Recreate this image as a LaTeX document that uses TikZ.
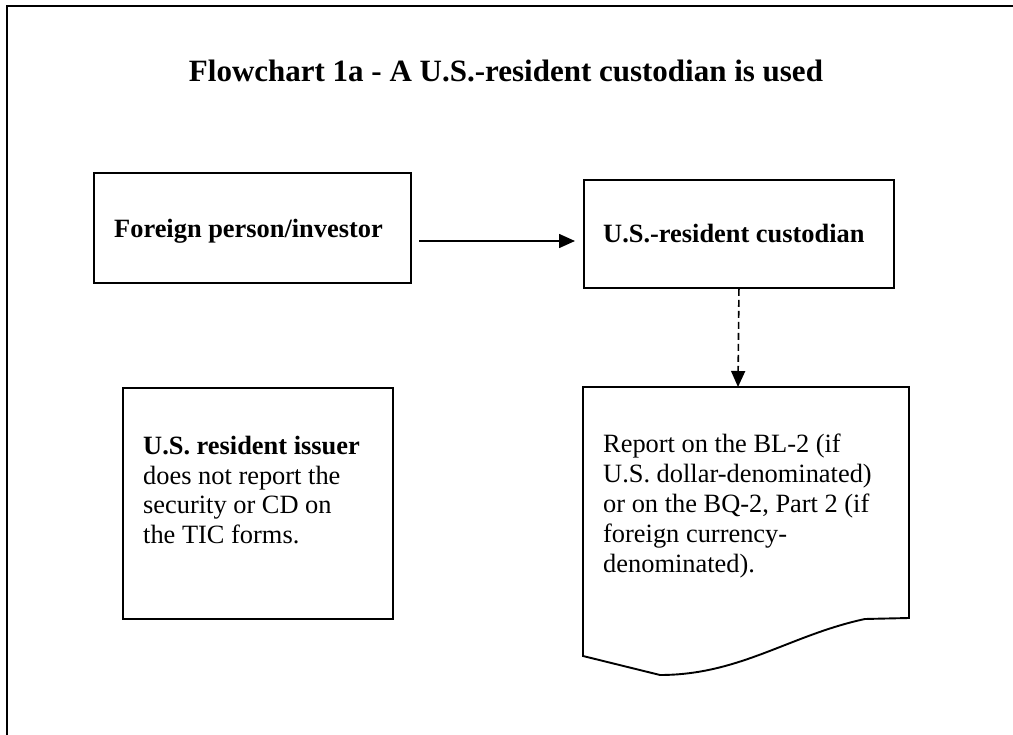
\documentclass[tikz,border=0pt]{standalone}
\usepackage{fontspec}
\setmainfont{Liberation Serif}
\usetikzlibrary{arrows.meta}
\begin{document}
\begin{tikzpicture}[x=1pt,y=-1pt,
  box/.style={draw=black, line width=1.9pt, minimum width=#1, anchor=north west, inner sep=0pt},
  txt/.style={anchor=base west, inner sep=0pt, font=\fontsize{26.4}{30}\selectfont},
  link/.style={line width=1.6pt, -{Triangle[length=16pt,width=14pt]}}]
\useasboundingbox (0,0) rectangle (1013,735);
% outer frame (top and left edges only)
\draw[line width=2.6pt] (7,735) -- (7,6) -- (1013,6);
% title
\node[anchor=base, inner sep=0pt, font=\fontsize{31}{36}\selectfont\bfseries] (title) at (506,82) {Flowchart 1a - A U.S.-resident custodian is used};
% boxes
\node[box=317pt, minimum height=110pt] (foreign) at (93,172) {};
\node[box=310pt, minimum height=108pt] (custodian) at (583,179) {};
\node[box=270pt, minimum height=231pt] (issuer) at (122,387) {};
% texts
\node[txt, font=\fontsize{26.4}{30}\selectfont\bfseries] (ftext) at (114,238) {Foreign person/investor};
\node[txt, font=\fontsize{26.4}{30}\selectfont\bfseries] (ctext) at (603,243) {U.S.-resident custodian};
\node[txt] (itext) at (143,454) {\parbox[t]{240pt}{\raggedright\fontsize{26.4}{30}\selectfont
  \textbf{U.S. resident issuer}\\does not report the\\security or CD on\\the TIC forms.}};
% document shape
\coordinate (doctop) at (738,387);
\draw[line width=1.9pt, line join=miter] (583,387) -- (909,387) -- (909,618) -- (865,619)
   .. controls (790,635) and (740,675) .. (660,675) -- (583,656) -- cycle;
\node[txt] (dtext) at (603,453) {\parbox[t]{300pt}{\raggedright\fontsize{26.4}{30}\selectfont
  Report on the BL-2 (if\\U.S. dollar-denominated)\\or on the BQ-2, Part 2 (if\\foreign currency-\\denominated).}};
% connectors
\coordinate (a1) at (419,241);
\coordinate (a2) at (575,241);
\draw[link] (a1) -- (a2);
\draw[link, dash pattern=on 7pt off 4pt] (custodian.south) -- (doctop);
\end{tikzpicture}
\end{document}
